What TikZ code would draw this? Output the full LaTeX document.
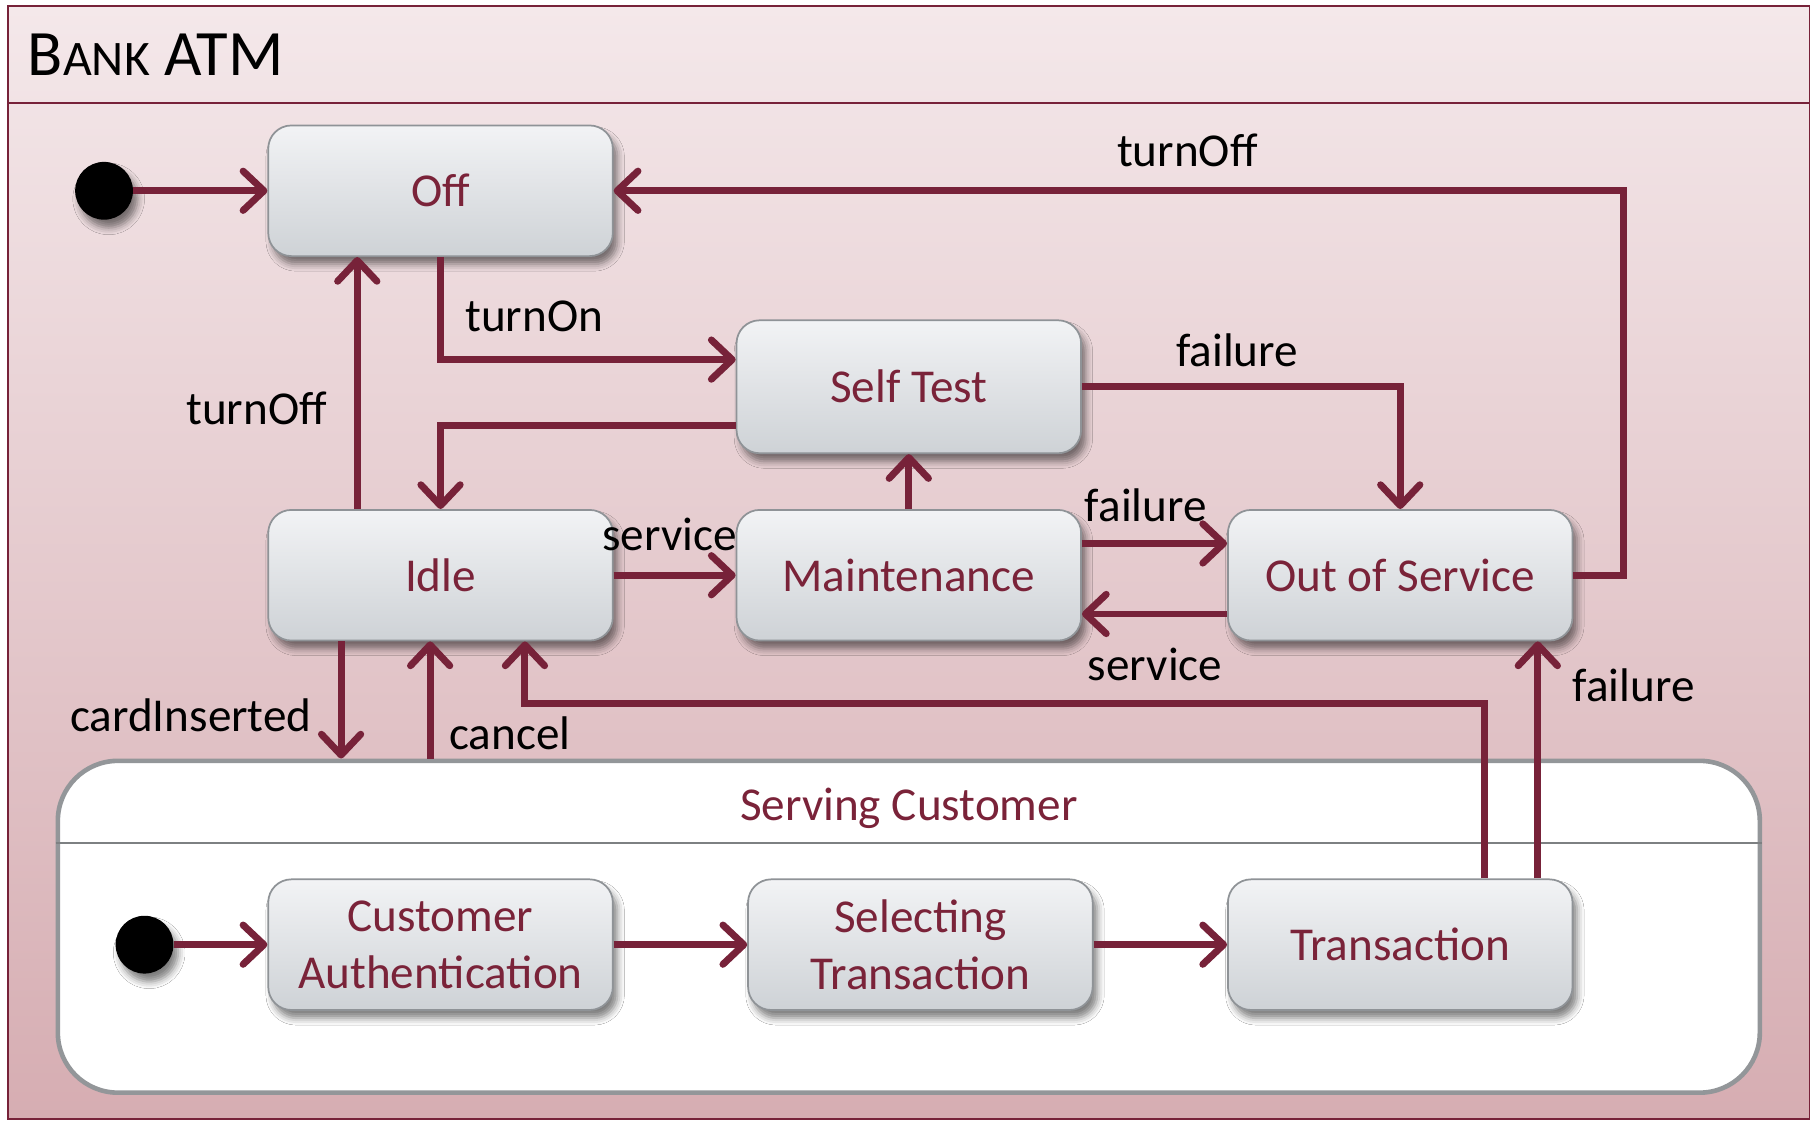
\documentclass[tikz,border=0pt]{standalone}
\usepackage{fontspec}
\setmainfont{Carlito}
\usetikzlibrary{arrows.meta,shadows.blur}

\definecolor{wine}{RGB}{119,34,57}
\definecolor{statetext}{RGB}{122,35,57}
\definecolor{stateedge}{RGB}{143,147,151}
\definecolor{statetop}{RGB}{242,243,245}
\definecolor{statebot}{RGB}{206,210,214}
\definecolor{frametop}{RGB}{244,232,234}
\definecolor{framebot}{RGB}{214,173,178}
\definecolor{compedge}{RGB}{147,150,153}

\newcommand{\lblfont}{\fontsize{40.8pt}{49pt}\selectfont}

\begin{document}
\begin{tikzpicture}[x=1pt,y=-1pt,
  softshadow/.style={blur shadow={shadow xshift=4pt, shadow yshift=-7pt,
      shadow blur radius=6pt, shadow opacity=50}},
  state/.style={rectangle, rounded corners=20pt, draw=stateedge, line width=1.5pt,
      top color=statetop, bottom color=statebot, minimum width=298pt,
      minimum height=113pt, text=statetext, font=\lblfont, align=center,
      inner sep=0pt, softshadow},
  initial/.style={circle, fill=black, minimum size=50pt, inner sep=0pt, softshadow},
  frame/.style={rectangle, draw=wine, line width=1.5pt, top color=frametop,
      bottom color=framebot, minimum width=1558pt, minimum height=963pt, inner sep=0pt},
  composite/.style={rectangle, rounded corners=52pt, draw=compedge, line width=4pt,
      fill=white, minimum width=1472pt, minimum height=287pt, inner sep=0pt},
  trans/.style={draw=wine, line width=6pt,
      -{Straight Barb[length=18pt,width=34pt,round]}},
  lbl/.style={font=\lblfont, text=black, inner sep=0pt},
]
\fill[white] (0,0) rectangle (1568,970);
\useasboundingbox (0,0) rectangle (1568,970);

% outer frame with its title compartment
\node[frame] (atm) at (786,486.5) {};
\draw[wine, line width=1.5pt] (atm.west |- 0,89) -- (atm.east |- 0,89);
\node[anchor=base west, inner sep=0pt, text=black] (atmtitle) at (24,65)
  {\fontsize{56pt}{60pt}\selectfont B\fontsize{43pt}{60pt}\selectfont ANK\fontsize{56pt}{60pt}\selectfont{} ATM};

% composite state
\node[composite] (serve) at (786,801.5) {};
\node[font=\lblfont, text=statetext, inner sep=0pt] (servetitle) at (786,699) {Serving Customer};
\draw[compedge!85!black, line width=2pt] (serve.west |- 0,729) -- (serve.east |- 0,729);

% top-level states
\node[initial] (init1) at (90,165) {};
\node[state] (off) at (381,165) {Off};
\node[state, minimum height=115pt] (selftest) at (786,334.5) {Self Test};
\node[state] (idle) at (381,497.5) {Idle};
\node[state] (maint) at (786,497.5) {Maintenance};
\node[state] (oos) at (1211,497.5) {Out of Service};

% nested states
\node[initial] (init2) at (125,817) {};
\node[state] (auth) at (381,817) {Customer\\Authentication};
\node[state] (select) at (796,817) {Selecting\\Transaction};
\node[state] (trans) at (1211,817) {Transaction};

% transitions
\draw[trans] (init1) -- (off);
\draw[trans] (oos.east) -- ++(43,0) |- (off.east);
\draw[trans] (off.south) |- ([yshift=23.5pt]selftest.west);
\draw[trans] ([xshift=-72pt]idle.north) -- ([xshift=-72pt]off.south);
\draw[trans] ([yshift=-33.5pt]selftest.west) -| (idle.north);
\draw[trans] (selftest.east) -| (oos.north);
\draw[trans] (maint.north) -- (selftest.south);
\draw[trans] (idle.east) -- (maint.west);
\draw[trans] ([yshift=27.5pt]maint.east) -- ([yshift=27.5pt]oos.west);
\draw[trans] ([yshift=-33.5pt]oos.west) -- ([yshift=-33.5pt]maint.east);
\draw[trans] ([xshift=-86pt]idle.south) -- ([xshift=-86pt]idle.south |- serve.north);
\draw[trans] ([xshift=-9pt]idle.south |- serve.north) -- ([xshift=-9pt]idle.south);
\draw[trans] ([xshift=73pt]trans.north) -- ++(0,-151) -| ([xshift=73pt]idle.south);
\draw[trans] ([xshift=119pt]trans.north) -- ([xshift=119pt]oos.south);
\draw[trans] (init2) -- (auth);
\draw[trans] (auth) -- (select);
\draw[trans] (select) -- (trans);

% transition labels
\node[lbl] (l1) at (1027,130) {turnOff};
\node[lbl] (l2) at (462,274) {turnOn};
\node[lbl] (l3) at (222,353) {turnOff};
\node[lbl] (l4) at (1070,303) {failure};
\node[lbl] (l5) at (579,462) {service};
\node[lbl] (l6) at (991,437) {failure};
\node[lbl] (l7) at (999,575) {service};
\node[lbl] (l8) at (165,619) {cardInserted};
\node[lbl] (l9) at (441,634) {cancel};
\node[lbl] (l10) at (1413,593) {failure};
\end{tikzpicture}
\end{document}
